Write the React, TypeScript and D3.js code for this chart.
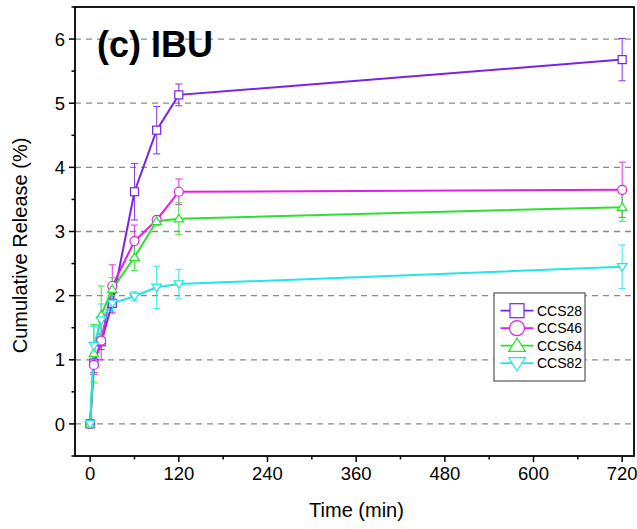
import React from "react";
import * as d3 from "d3";

const times = [0, 5, 15, 30, 60, 90, 120, 720];
const seriesNames = ["CCS28", "CCS46", "CCS64", "CCS82"];
const ccs28 = [0, 0.95, 1.28, 1.88, 3.62, 4.58, 5.13, 5.68];
const ccs28Err = [0, 0.15, 0.12, 0.15, 0.44, 0.37, 0.17, 0.33];
const ccs46 = [0, 0.92, 1.3, 2.15, 2.85, 3.18, 3.62, 3.65];
const ccs46Err = [0, 0.15, 0.3, 0.33, 0.25, 0.05, 0.2, 0.43];
const ccs64 = [0, 1.1, 1.7, 2.1, 2.6, 3.16, 3.2, 3.38];
const ccs64Err = [0, 0.45, 0.45, 0.18, 0.21, 0.07, 0.25, 0.22];
const ccs82 = [0, 1.22, 1.62, 1.88, 1.99, 2.13, 2.18, 2.45];
const ccs82Err = [0, 0.3, 0.25, 0.12, 0.07, 0.33, 0.23, 0.34];
const colors = ["#7B22E6", "#E020E6", "#2EE02E", "#22E6E6"];
const markers = ["square", "circle", "triangle", "invtriangle"];
const xTicks = [0, 120, 240, 360, 480, 600, 720];
const yTicks = [0, 1, 2, 3, 4, 5, 6];

const W = 637, H = 529;
const left = 75, right = 634, top = 7, bottom = 456;

function Marker({ type, x, y, size, color }: any) {
  const s = size;
  if (type === "square")
    return <rect x={x - s / 2} y={y - s / 2} width={s} height={s} fill="white" stroke={color} strokeWidth={1.2} />;
  if (type === "circle")
    return <circle cx={x} cy={y} r={s / 2 + 0.5} fill="white" stroke={color} strokeWidth={1.2} />;
  if (type === "triangle") {
    const h = s * 0.9;
    return <path d={`M${x},${y - h * 0.6} L${x + s * 0.6},${y + h * 0.45} L${x - s * 0.6},${y + h * 0.45} Z`} fill="white" stroke={color} strokeWidth={1.2} />;
  }
  const h = s * 0.9;
  return <path d={`M${x},${y + h * 0.6} L${x + s * 0.6},${y - h * 0.45} L${x - s * 0.6},${y - h * 0.45} Z`} fill="white" stroke={color} strokeWidth={1.2} />;
}

export default function App() {
  const x = d3.scaleLinear().domain([-20.5, 736]).range([left, right]);
  const y = d3.scaleLinear().domain([-0.5, 6.5]).range([bottom, top]);
  const vals = [ccs28, ccs46, ccs64, ccs82];
  const errs = [ccs28Err, ccs46Err, ccs64Err, ccs82Err];
  const line = d3.line<number>().x((_, i) => x(times[i])).y((d) => y(d));
  const xMinor = d3.range(60, 720, 120);
  const yMinor = d3.range(-0.5, 6.6, 1);
  const font = "Arial, 'Liberation Sans', sans-serif";

  return (
    <svg width={W} height={H} style={{ position: "absolute", left: 0, top: 0, background: "white" }} fontFamily={font}>
      {yTicks.map((t) => (
        <line key={"g" + t} x1={left} x2={right} y1={y(t)} y2={y(t)} stroke="#8a8a8a" strokeWidth={1.3} strokeDasharray="6,5" />
      ))}
      {vals.map((v, si) => (
        <g key={si}>
          {v.map((d, i) =>
            errs[si][i] > 0 ? (
              <g key={i} stroke={colors[si]} strokeWidth={1.1} opacity={0.85}>
                <line x1={x(times[i])} x2={x(times[i])} y1={y(d - errs[si][i])} y2={y(d + errs[si][i])} />
                <line x1={x(times[i]) - 3.5} x2={x(times[i]) + 3.5} y1={y(d + errs[si][i])} y2={y(d + errs[si][i])} />
                <line x1={x(times[i]) - 3.5} x2={x(times[i]) + 3.5} y1={y(d - errs[si][i])} y2={y(d - errs[si][i])} />
              </g>
            ) : null
          )}
          <path d={line(v) || ""} fill="none" stroke={colors[si]} strokeWidth={2} />
        </g>
      ))}
      {vals.map((v, si) => (
        <g key={"m" + si}>
          {v.map((d, i) => (
            <Marker key={i} type={markers[si]} x={x(times[i])} y={y(d)} size={8} color={colors[si]} />
          ))}
        </g>
      ))}
      <rect x={left} y={top} width={right - left} height={bottom - top} fill="none" stroke="black" strokeWidth={1.8} />
      {yTicks.map((t) => (
        <g key={"yt" + t}>
          <line x1={left - 6} x2={left} y1={y(t)} y2={y(t)} stroke="black" strokeWidth={1.5} />
          <text x={left - 10} y={y(t)} dy="0.36em" textAnchor="end" fontSize={18.5}>{t}</text>
        </g>
      ))}
      {yMinor.map((t) => (
        <line key={"ym" + t} x1={left - 3.5} x2={left} y1={y(t)} y2={y(t)} stroke="black" strokeWidth={1.5} />
      ))}
      {xTicks.map((t) => (
        <g key={"xt" + t}>
          <line x1={x(t)} x2={x(t)} y1={bottom} y2={bottom + 6} stroke="black" strokeWidth={1.5} />
          <text x={x(t)} y={bottom + 24} textAnchor="middle" fontSize={18.5}>{t}</text>
        </g>
      ))}
      {xMinor.map((t) => (
        <line key={"xm" + t} x1={x(t)} x2={x(t)} y1={bottom} y2={bottom + 3.5} stroke="black" strokeWidth={1.5} />
      ))}
      <text x={(left + right) / 2 + 2} y={517} textAnchor="middle" fontSize={20}>Time (min)</text>
      <text transform={`translate(27,${(top + bottom) / 2 + 14}) rotate(-90)`} textAnchor="middle" fontSize={20}>Cumulative Release (%)</text>
      <text x={97} y={57} fontSize={36} fontWeight="bold">(c) IBU</text>
      <rect x={494} y={293} width={91} height={88} fill="white" stroke="#555" strokeWidth={1.2} />
      {seriesNames.map((n, i) => {
        const ly = 310.7 + i * 17.5;
        return (
          <g key={n}>
            <line x1={500.5} x2={533.5} y1={ly} y2={ly} stroke={colors[i]} strokeWidth={1.8} />
            <Marker type={markers[i]} x={517} y={ly} size={14} color={colors[i]} />
            <text x={537} y={ly} dy="0.36em" fontSize={14}>{n}</text>
          </g>
        );
      })}
    </svg>
  );
}
